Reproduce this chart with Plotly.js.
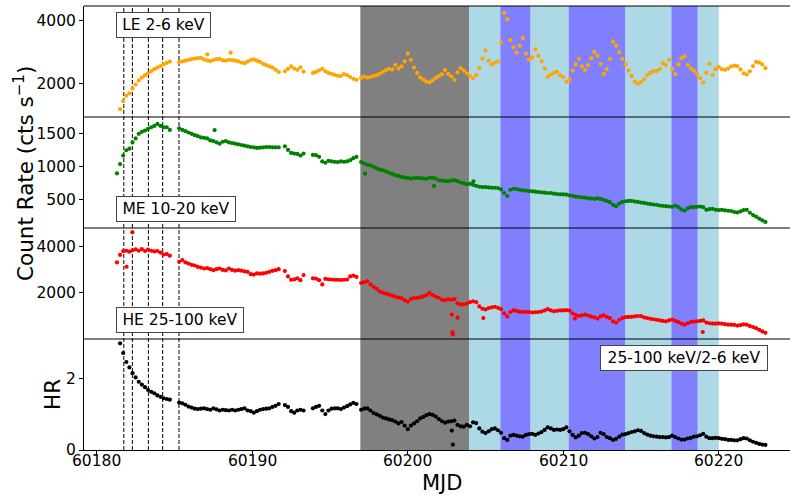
<!DOCTYPE html>
<html>
<head>
<meta charset="utf-8">
<script src="https://cdn.plot.ly/plotly-3.0.1.min.js"></script>
<style>
  html, body { margin: 0; padding: 0; background: #fff; }
  #chart { width: 790px; height: 495px; }
</style>
</head>
<body>
<div id="chart"></div>
<script>
// Observation times (MJD), shared by the LE, ME, HE light curves and the hardness ratio
const mjd = [
  60181.3, 60181.5, 60181.7, 60181.9, 60182.1, 60182.3, 60182.5, 60182.7, 60182.9,
  60183.1, 60183.3, 60183.5, 60183.7, 60183.9, 60184.1, 60184.3, 60184.5, 60184.7,
  60185.3, 60185.5, 60185.7, 60185.9,
  60186.1, 60186.3, 60186.5, 60186.7, 60186.9,
  60187.1, 60187.3, 60187.5, 60187.7, 60187.9,
  60188.1, 60188.3, 60188.5, 60188.7, 60188.9,
  60189.1, 60189.3, 60189.5, 60189.7, 60189.9,
  60190.1, 60190.3, 60190.5, 60190.7, 60190.9,
  60191.1, 60191.3, 60191.5, 60191.7,
  60192.1, 60192.3, 60192.5, 60192.7, 60192.9, 60193.1, 60193.3,
  60193.9, 60194.1, 60194.3, 60194.5, 60194.7, 60194.9,
  60195.1, 60195.3, 60195.5, 60195.7, 60195.9, 60196.1, 60196.3, 60196.5, 60196.7,
  60197.0, 60197.2, 60197.4, 60197.6, 60197.8,
  60198.0, 60198.2, 60198.4, 60198.6, 60198.8,
  60199.0, 60199.2, 60199.4, 60199.6, 60199.8,
  60200.0, 60200.2, 60200.4, 60200.6, 60200.8,
  60201.0, 60201.2, 60201.4, 60201.6, 60201.8,
  60202.0, 60202.2, 60202.4, 60202.6, 60202.8,
  60203.0, 60203.2, 60203.4, 60203.6, 60203.8,
  60204.0, 60204.2, 60204.4, 60204.6, 60204.8,
  60205.0, 60205.2, 60205.4, 60205.6, 60205.8,
  60206.0, 60206.2, 60206.4, 60206.6, 60206.8,
  60207.0, 60207.2, 60207.4, 60207.6, 60207.8,
  60208.0, 60208.2, 60208.4, 60208.6, 60208.8,
  60209.0, 60209.2, 60209.4, 60209.6, 60209.8,
  60210.0, 60210.2, 60210.4, 60210.6, 60210.8,
  60211.0, 60211.2, 60211.4, 60211.6, 60211.8,
  60212.0, 60212.2, 60212.4, 60212.6, 60212.8,
  60213.0, 60213.2, 60213.4, 60213.6, 60213.8,
  60214.0, 60214.2, 60214.4, 60214.6, 60214.8,
  60215.0, 60215.2, 60215.4, 60215.6, 60215.8,
  60216.0, 60216.2, 60216.4, 60216.6, 60216.8,
  60217.0, 60217.2, 60217.4, 60217.6, 60217.8,
  60218.0, 60218.2, 60218.4, 60218.6, 60218.8,
  60219.0, 60219.2, 60219.4, 60219.6, 60219.8,
  60220.0, 60220.2, 60220.4, 60220.6, 60220.8,
  60221.0, 60221.2, 60221.4, 60221.6, 60221.8,
  60222.0, 60222.2, 60222.4, 60222.6, 60222.8,
  60223.0
];

// LE 2-6 keV count rate (cts/s)
const leRate = [
  null, 1170, 1430, 1600, 1680, 1830, 1960, 2090, 2180,
  2250, 2320, 2390, 2450, 2500, 2550, 2600, 2650, 2690,
  2680, 2700, 2720, 2750,
  2770, 2790, 2800, 2810, 2760,
  2730, 2710, 2740, 2770, 2780,
  2730, 2720, 2750, 2740, 2720,
  2700, 2660, 2640, 2690, 2740,
  2760, 2720, 2680, 2620, 2580,
  2540, 2500, 2430, 2360,
  2380, 2460, 2540, 2470, 2430, 2510, 2370,
  2330, 2360, 2410, 2460, 2380, 2330,
  2300, 2270, 2240, 2230, 2290, 2260, 2200, 2140, 2110,
  2170, 2210, 2180, 2200, 2230,
  2260, 2300, 2360, 2420, 2460,
  2440, 2590, 2470, 2540, 2700,
  2950, 2750, 2500, 2330, 2190,
  2120, 2050, 2030, 2090, 2170,
  2230, 2290, 2420, 2300, 2220,
  2110, 2350, 2480, 2400, 2320,
  2230, 2160, 2260, 2480, 2790,
  3050, 2720, 2600, 2650, 2700,
  3300, 4250, 4050, 3380, 3150,
  2980, 3200, 3450, 2950, 2760,
  2830, 3080, 2880, 2700, 2470,
  2200, 2280, 2330, 2370, 2250,
  2200, 2050, 2120, 2400, 2600,
  2780, 2550, 2430, 2580, 2800,
  3000, 2880, 2620, 2300, 2450,
  2780, 3330, 3200, 2990, 2780,
  2600, 2400, 2230, 2050, 1990,
  2040, 2130, 2260, 2330, 2390,
  2390, 2450, 2640, 2580, 2750,
  2450, 2290, 2600, 2800, 2860,
  2590, 2480, 2400, 2290, 2170,
  2020, 2330, 2620, 2260, 2450,
  2520, 2450, 2430, 2470, 2540,
  2560, 2550, 2440, 2320, 2280,
  2380, 2550, 2680, 2660, 2600,
  2480
];
const leExtraMjd = [60187.11, 60188.61];
const leExtraRate = [2925, 2978];

// ME 10-20 keV count rate (cts/s)
const meRate = [
  900, 1040, 1170, 1250, 1275, 1370, 1430, 1500, 1530,
  1550, 1575, 1600, 1620, 1650, 1620, 1600, 1600, 1560,
  1585, 1560, 1540, 1520,
  1500, 1480, 1465, 1445, 1440,
  1430, 1400, 1390, 1370, 1350,
  1380, 1390, 1370, 1360, 1350,
  1340, 1330, 1320, 1310, 1300,
  1295, 1285, 1290, 1295, 1300,
  1300, 1295, 1295, 1295,
  1310, 1255, 1210, 1200, 1195, 1170, 1200,
  1180, 1175, 1150, 1080, 1060, 1090,
  1080, 1075, 1070, 1080, 1075, 1080, 1100, 1130, 1150,
  1070, 1050, 1030, 1020, 1000,
  975, 955, 945, 930, 905,
  890, 870, 860, 845, 835,
  830, 820, 825, 830, 825,
  820, 815, 835, 830, 820,
  790, 790, 780, 780, 790,
  795, 780, 760, 750, 735,
  740, 725, 710, 695, 690,
  690, 685, 680, 680, 675,
  655, 600, 555, 650, 665,
  660, 650, 640, 635, 630,
  625, 620, 615, 610, 605,
  600, 600, 590, 585, 580,
  580, 575, 565, 555, 545,
  540, 535, 530, 520, 515,
  510, 520, 510, 495, 480,
  460, 420, 400, 440, 465,
  475, 480, 480, 470, 465,
  455, 450, 440, 430, 425,
  420, 410, 405, 400, 395,
  390, 410, 385, 350, 330,
  365, 385, 385, 390, 395,
  385, 345, 355, 360, 345,
  340, 345, 335, 330, 325,
  310, 305, 320, 340, 345,
  300, 265, 240, 210, 185,
  160
];
const meExtraMjd = [60187.58, 60197.25, 60201.69, 60204.22];
const meExtraRate = [1557, 894, 708, 779];

// HE 25-100 keV count rate (cts/s)
const heRate = [
  3300, 3620, 3780, 3800, 3760, 3820, 3860, 3800, 3870,
  3790, 3850, 3800, 3770, 3790, 3720, 3640, 3660, 3590,
  3330, 3400, 3300, 3250,
  3200, 3170, 3110, 3080, 3040,
  3060, 3010, 2970, 3010, 3040,
  2980, 2960, 3040, 2980, 2950,
  2970, 2950, 2920, 2900, 2800,
  2780, 2830, 2820, 2830, 2860,
  2900, 2940, 2970, 3010,
  2930, 2700, 2560, 2580, 2620, 2540, 2760,
  2620, 2610, 2540, 2360, 2600, 2580,
  2570, 2560, 2560, 2550, 2560, 2570, 2700, 2740, 2680,
  2420, 2460, 2500, 2360, 2260,
  2170, 2060, 2000, 1970, 1920,
  1880, 1830, 1800, 1770, 1680,
  1620, 1740, 1770, 1790, 1810,
  1850, 1900, 2000, 1900, 1830,
  1790, 1700, 1690, 1720, 1700,
  1730, 1550, 1500, 1510, 1540,
  1600, 1640, 1600, 1420, 1320,
  1290, 1350, 1380, 1400, 1360,
  1300, 1120, 990, 1180, 1250,
  1230, 1190, 1180, 1190, 1180,
  1160, 1170, 1180, 1200, 1250,
  1300, 1250, 1210, 1230, 1250,
  1250, 1260, 1240, 1120, 1060,
  1010, 1040, 1070, 1030, 980,
  950, 900, 990, 1040, 970,
  920, 780, 730, 850, 920,
  960, 970, 975, 990, 1010,
  1000, 950, 920, 890, 870,
  850, 825, 800, 780, 820,
  860, 800, 750, 680, 640,
  700, 750, 770, 780, 800,
  820, 730, 700, 685, 680,
  690, 680, 660, 640, 640,
  630, 600, 620, 650, 640,
  580, 540, 490, 420, 350,
  290
];
const heExtraMjd = [60181.92, 60182.29, 60202.83, 60202.87, 60202.90, 60203.20, 60204.86, 60210.75, 60218.97];
const heExtraRate = [3115, 4589, 1069, 320, 220, 940, 920, 900, 326];

// Hardness ratio 25-100 keV / 2-6 keV
const hardness = [
  null, 2.97, 2.70, 2.45, 2.30, 2.14, 2.02, 1.90, 1.82,
  1.75, 1.67, 1.62, 1.58, 1.52, 1.48, 1.44, 1.42, 1.40,
  1.32, 1.30, 1.26, 1.21,
  1.18, 1.15, 1.14, 1.15, 1.16,
  1.14, 1.12, 1.16, 1.13, 1.10,
  1.12, 1.11, 1.10, 1.12, 1.10,
  1.12, 1.14, 1.16, 1.10, 1.08,
  1.04, 1.08, 1.12, 1.14, 1.15,
  1.16, 1.20, 1.23, 1.28,
  1.25, 1.20, 1.08, 1.04, 1.10, 1.12, 1.10,
  1.16, 1.20, 1.23, 1.10, 1.00, 1.10,
  1.15, 1.16, 1.16, 1.14, 1.18, 1.22, 1.27, 1.31, 1.28,
  1.12, 1.15, 1.16, 1.10, 1.03,
  0.99, 0.95, 0.90, 0.88, 0.85,
  0.83, 0.79, 0.74, 0.78, 0.68,
  0.58, 0.68, 0.74, 0.80, 0.88,
  0.92, 0.97, 1.00, 0.98, 0.93,
  0.86, 0.80, 0.76, 0.79, 0.80,
  0.82, 0.70, 0.66, 0.65, 0.70,
  0.66, 0.77, 0.75, 0.60, 0.51,
  0.47, 0.52, 0.58, 0.60, 0.55,
  0.48, 0.33, 0.28, 0.40, 0.42,
  0.40, 0.38, 0.37, 0.42, 0.44,
  0.45, 0.42, 0.46, 0.50, 0.56,
  0.63, 0.60, 0.56, 0.57, 0.56,
  0.58, 0.63, 0.52, 0.42, 0.35,
  0.40, 0.47, 0.48, 0.44, 0.38,
  0.32, 0.36, 0.48, 0.44, 0.36,
  0.33, 0.28, 0.31, 0.37, 0.43,
  0.44, 0.47, 0.50, 0.52, 0.55,
  0.53, 0.47, 0.43, 0.40, 0.38,
  0.37, 0.36, 0.36, 0.35, 0.36,
  0.40, 0.36, 0.32, 0.29, 0.29,
  0.32, 0.34, 0.37, 0.38, 0.41,
  0.45, 0.37, 0.33, 0.33, 0.34,
  0.33, 0.31, 0.30, 0.28, 0.28,
  0.27, 0.27, 0.30, 0.33, 0.32,
  0.27, 0.23, 0.20, 0.17, 0.15,
  0.14
];
const hrExtraMjd = [60202.83, 60202.90];
const hrExtraValue = [0.54, 0.15];

// Epoch markers (dashed) and shaded intervals
const epochLines = [60181.74, 60182.29, 60183.32, 60184.24, 60185.29];
const bandStart = [60196.95, 60203.95, 60205.95, 60207.90, 60210.35, 60214.00, 60216.95, 60218.65];
const bandEnd   = [60203.95, 60205.95, 60207.90, 60210.35, 60214.00, 60216.95, 60218.65, 60220.00];
const bandColor = ['#808080', '#add8e6', '#8080ff', '#add8e6', '#8080ff', '#add8e6', '#8080ff', '#add8e6'];

// Panel labels
const panelLabels = ['LE 2-6 keV', 'ME 10-20 keV', 'HE 25-100 keV', '25-100 keV/2-6 keV'];
const xTicks = [60180, 60190, 60200, 60210, 60220];

const FONT = 'DejaVu Sans, Liberation Sans, sans-serif';

function series(x, y, xe, ye, color, yaxis) {
  return {
    type: 'scatter', mode: 'markers',
    x: x.concat(xe), y: y.concat(ye),
    xaxis: 'x', yaxis: yaxis,
    marker: { size: 4.2, color: color, line: { width: 0 } },
    hoverinfo: 'x+y'
  };
}

const traces = [
  series(mjd, leRate, leExtraMjd, leExtraRate, '#ffa500', 'y'),
  series(mjd, meRate, meExtraMjd, meExtraRate, '#008000', 'y2'),
  series(mjd, heRate, heExtraMjd, heExtraRate, '#ff0000', 'y3'),
  series(mjd, hardness, hrExtraMjd, hrExtraValue, '#000000', 'y4')
];

const shapes = [];
for (let i = 0; i < bandStart.length; i++) {
  shapes.push({
    type: 'rect', xref: 'x', yref: 'paper',
    x0: bandStart[i], x1: bandEnd[i], y0: 0, y1: 1,
    fillcolor: bandColor[i], line: { width: 0 }, layer: 'below'
  });
}
epochLines.forEach(t => shapes.push({
  type: 'line', xref: 'x', yref: 'paper', x0: t, x1: t, y0: 0, y1: 1,
  line: { color: '#000', width: 1, dash: '4px,2px' }, layer: 'below'
}));
// panel frames (top edge and separators)
[0.25, 0.5, 0.75, 1].forEach(p => shapes.push({
  type: 'line', xref: 'paper', yref: 'paper', x0: 0, x1: 1, y0: p, y1: p,
  line: { color: '#000', width: 1 }, layer: 'above'
}));

function yAxis(domain, range, ticks) {
  return {
    domain: domain, range: range, anchor: 'x',
    tickvals: ticks, ticktext: ticks.map(String),
    ticks: 'outside', ticklen: 4, tickwidth: 1, tickcolor: '#000',
    showline: true, linecolor: '#000', linewidth: 1,
    showgrid: false, zeroline: false,
    tickfont: { family: FONT, size: 15.5, color: '#000' }
  };
}

function labelBox(text, x, y, w) {
  return {
    text: text, xref: 'paper', yref: 'paper', x: x, y: y,
    xanchor: 'center', yanchor: 'middle', showarrow: false,
    font: { family: FONT, size: 15.5, color: '#000' },
    bgcolor: '#ffffff', bordercolor: '#444444', borderwidth: 1, borderpad: 0,
    width: w, height: 24
  };
}

// MJD tick labels placed on the x scale, just under the tick marks
const xTickLabels = xTicks.map(v => ({
  text: String(v), xref: 'x', yref: 'paper', x: v, y: -0.0248,
  xanchor: 'center', yanchor: 'middle', showarrow: false,
  font: { family: FONT, size: 15.5, color: '#000' }
}));

const layout = {
  width: 790, height: 495,
  margin: { l: 84, r: 0, t: 6, b: 45, pad: 0 },
  paper_bgcolor: '#ffffff', plot_bgcolor: '#ffffff',
  showlegend: false,
  font: { family: FONT, size: 15.5, color: '#000' },
  xaxis: {
    range: [60179.18, 60224.58], anchor: 'y4',
    tickvals: xTicks, showticklabels: false,
    ticks: 'outside', ticklen: 4, tickwidth: 1, tickcolor: '#000',
    showline: true, linecolor: '#000', linewidth: 1,
    showgrid: false, zeroline: false
  },
  yaxis:  yAxis([0.75, 1.0], [920, 4470], [2000, 4000]),
  yaxis2: yAxis([0.5, 0.75], [68, 1756], [500, 1000, 1500]),
  yaxis3: yAxis([0.25, 0.5], [26, 4773], [2000, 4000]),
  yaxis4: yAxis([0.0, 0.25], [0, 3.09], [0, 2]),
  shapes: shapes,
  annotations: xTickLabels.concat([
    labelBox(panelLabels[0], 0.1122, 0.9572, 93),
    labelBox(panelLabels[1], 0.1299, 0.5432, 118),
    labelBox(panelLabels[2], 0.1357, 0.2917, 126),
    labelBox(panelLabels[3], 0.8492, 0.2061, 166),
    {
      text: 'Count Rate (cts s<sup>−1</sup>)', xref: 'paper', yref: 'paper',
      x: -0.085, y: 0.6239, xanchor: 'center', yanchor: 'middle',
      textangle: -90, showarrow: false,
      font: { family: FONT, size: 21.5, color: '#000' }
    },
    {
      text: 'HR', xref: 'paper', yref: 'paper',
      x: -0.0439, y: 0.1239, xanchor: 'center', yanchor: 'middle',
      textangle: -90, showarrow: false,
      font: { family: FONT, size: 21.5, color: '#000' }
    },
    {
      text: 'MJD', xref: 'paper', yref: 'paper',
      x: 0.507, y: -0.043, xanchor: 'center', yanchor: 'top',
      showarrow: false,
      font: { family: FONT, size: 21, color: '#000' }
    }
  ])
};

Plotly.newPlot('chart', traces, layout, { staticPlot: true, displayModeBar: false });
</script>
</body>
</html>
